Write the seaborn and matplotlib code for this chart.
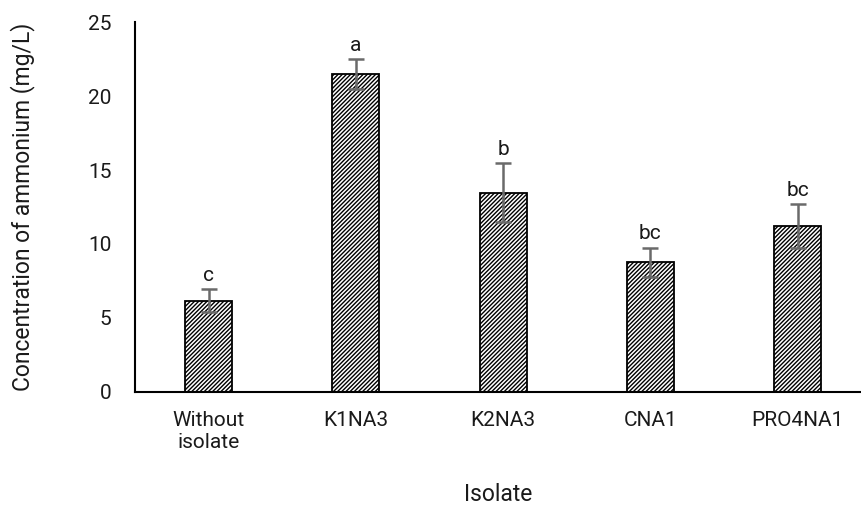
import matplotlib
matplotlib.use("Agg")
import matplotlib.pyplot as plt
import seaborn as sns
import pandas as pd

categories = ["Without\nisolate", "K1NA3", "K2NA3", "CNA1", "PRO4NA1"]
values = [6.15, 21.5, 13.45, 8.75, 11.2]
errors = [0.77, 1.0, 2.0, 1.0, 1.47]
letters = ["c", "a", "b", "bc", "bc"]
yticks = [0, 5, 10, 15, 20, 25]

sns.set_theme(style="white")
plt.rcParams["font.family"] = ["Roboto", "DejaVu Sans"]
plt.rcParams["hatch.linewidth"] = 1.0

fig = plt.figure(figsize=(8.61, 5.11), dpi=100)
ax = fig.add_axes([135/861, 1 - 391.5/511, 1 - 135/861, (391.5 - 22.5)/511])

df = pd.DataFrame({"Isolate": categories, "Value": values})
sns.barplot(data=df, x="Isolate", y="Value", ax=ax, color="white",
            width=0.32, edgecolor="black", linewidth=1.3, errorbar=None)
for p in ax.patches:
    p.set_hatch("/" * 8)
    p.set_facecolor("white")
    p.set_edgecolor("black")

xs = list(range(len(categories)))
ax.errorbar(xs, values, yerr=errors, fmt="none", ecolor="#6a6a6a",
            elinewidth=1.8, capsize=6, capthick=1.8)
for x, v, e, t in zip(xs, values, errors, letters):
    ax.annotate(t, (x, v + e), xytext=(0, 3), textcoords="offset points",
                ha="center", va="bottom", fontsize=15, color="#1a1a1a")

ax.set_xlim(-0.5, 4.43)
ax.set_ylim(0, 25)
ax.set_yticks(yticks)
ax.tick_params(axis="both", length=0, labelsize=15, colors="#1a1a1a")
ax.tick_params(axis="y", pad=17)
ax.tick_params(axis="x", pad=14)
for s in ["top", "right"]:
    ax.spines[s].set_visible(False)
for s in ["left", "bottom"]:
    ax.spines[s].set_color("black")
    ax.spines[s].set_linewidth(1.5)
ax.set_xlabel("Isolate", fontsize=16.5, color="#1a1a1a", labelpad=22)
ax.set_ylabel("Concentration of ammonium (mg/L)", fontsize=16.5, color="#1a1a1a", labelpad=38)

fig.savefig("out.png", dpi=100)
